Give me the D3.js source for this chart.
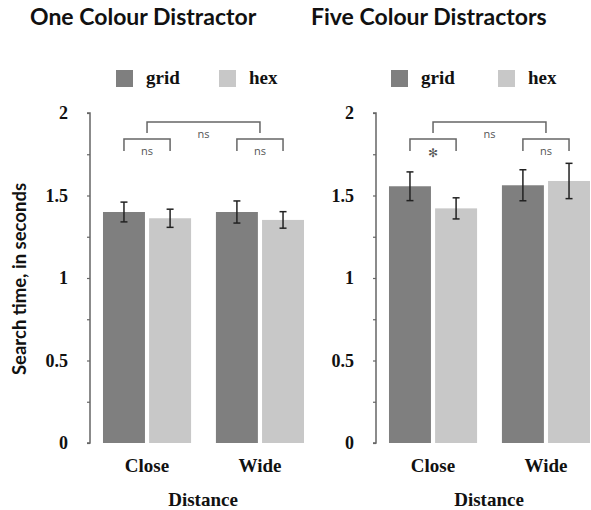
<!DOCTYPE html>
<html><head><meta charset="utf-8">
<script src="https://cdn.jsdelivr.net/npm/d3@7"></script>
<style>body{margin:0;background:#fff}svg{display:block}</style>
</head><body>
<script>
// ---- data ----
const panels = ["One Colour Distractor", "Five Colour Distractors"];
const categories = ["Close", "Wide"];
const series = ["grid", "hex"];
// mean search time (s) per panel, [Close, Wide]
const gridMeans = [[1.40, 1.40], [1.556, 1.562]];
const hexMeans  = [[1.362, 1.352], [1.422, 1.588]];
// error half-widths
const gridErr = [[0.06, 0.067], [0.087, 0.094]];
const hexErr  = [[0.055, 0.05], [0.064, 0.107]];
// significance labels: [Close grid-vs-hex, Wide grid-vs-hex, Close-vs-Wide]
const sigLabels = [["ns", "ns", "ns"], ["✻", "ns", "ns"]];
const yTicks = [0, 0.5, 1, 1.5, 2];
const yTickLabels = ["0", "0.5", "1", "1.5", "2"];
const yMinorTicks = [0.25, 0.75, 1.25, 1.75];
const yTitle = "Search time, in seconds";
const xTitle = "Distance";

// ---- layout ----
const W = 591, H = 510;
const axisX = [90, 376];
const legendX = [[116, 219], [391, 498]];
const titleX = [30, 311];
const colors = {grid: "#7f7f7f", hex: "#c8c8c8"};
const y = d3.scaleLinear().domain([0, 2]).range([443, 113]);

const svg = d3.select("body").append("svg").attr("width", W).attr("height", H);

svg.append("text")
  .attr("transform", `translate(26,${279}) rotate(-90)`)
  .attr("text-anchor", "middle")
  .style("font", "bold 18.5px Lato").style("fill", "#111")
  .text(yTitle);

panels.forEach((title, p) => {
  const ax = axisX[p];
  const g = svg.append("g");
  // title
  g.append("text").attr("x", titleX[p]).attr("y", 25)
    .style("font", "bold 23px Lato").style("fill", "#111").text(title);

  // legend
  series.forEach((s, i) => {
    g.append("rect").attr("x", legendX[p][i]).attr("y", 70).attr("width", 17).attr("height", 17)
      .attr("fill", colors[s]);
    g.append("text").attr("x", legendX[p][i] + 30).attr("y", 84)
      .style("font", "bold 19px 'Liberation Serif'").style("fill", "#111").text(s);
  });

  const x0 = d3.scaleBand().domain(categories).range([ax, ax + 227])
    .paddingInner(0.22).paddingOuter(0.115);
  const x1 = d3.scaleBand().domain(series).range([0, x0.bandwidth()]).paddingInner(0.09);

  // axis
  const yAxis = d3.axisLeft(y).tickValues(yTicks).tickSize(3)
    .tickFormat((d, i) => yTickLabels[i]).tickPadding(19);
  const ga = g.append("g").attr("transform", `translate(${ax},0)`).call(yAxis);
  ga.select(".domain").attr("stroke", "#666").attr("stroke-width", 1.5).attr("d", `M-3,${y(2)}H0V${y(0)}H-3`);
  ga.selectAll(".tick line").attr("stroke", "#666").attr("stroke-width", 1.2);
  ga.selectAll(".tick text").style("font", "bold 18px 'Liberation Serif'").style("fill", "#111");
  const ym = d3.axisLeft(y).tickValues(yMinorTicks).tickSize(3).tickFormat("");
  const gm = g.append("g").attr("transform", `translate(${ax},0)`).call(ym);
  gm.select(".domain").remove();
  gm.selectAll(".tick line").attr("stroke", "#666").attr("stroke-width", 1.2);

  // bars
  const rows = [];
  categories.forEach((c, ci) => {
    rows.push({c, s: "grid", v: gridMeans[p][ci], e: gridErr[p][ci]});
    rows.push({c, s: "hex", v: hexMeans[p][ci], e: hexErr[p][ci]});
  });
  g.selectAll("rect.bar").data(rows).enter().append("rect").attr("class", "bar")
    .attr("x", d => x0(d.c) + x1(d.s)).attr("width", x1.bandwidth())
    .attr("y", d => y(d.v)).attr("height", d => y(0) - y(d.v))
    .attr("fill", d => colors[d.s]);
  // error bars
  const eb = g.selectAll("g.err").data(rows).enter().append("g")
    .attr("transform", d => `translate(${x0(d.c) + x1(d.s) + x1.bandwidth() / 2},0)`)
    .attr("stroke", "#222").attr("stroke-width", 1.5);
  eb.append("line").attr("y1", d => y(d.v + d.e)).attr("y2", d => y(d.v - d.e));
  eb.append("line").attr("x1", -3.5).attr("x2", 3.5).attr("y1", d => y(d.v + d.e)).attr("y2", d => y(d.v + d.e));
  eb.append("line").attr("x1", -3.5).attr("x2", 3.5).attr("y1", d => y(d.v - d.e)).attr("y2", d => y(d.v - d.e));

  // x labels
  categories.forEach(c => {
    g.append("text").attr("x", x0(c) + x0.bandwidth() / 2).attr("y", 472)
      .attr("text-anchor", "middle").style("font", "bold 19px 'Liberation Serif'").style("fill", "#111").text(c);
  });
  g.append("text").attr("x", ax + 113).attr("y", 506).attr("text-anchor", "middle")
    .style("font", "bold 19px 'Liberation Serif'").style("fill", "#111").text(xTitle);

  // significance brackets
  const bracket = (xa, xb, top, legLen, label, isStar) => {
    g.append("path").attr("d", `M${xa},${top + legLen}V${top}H${xb}V${top + legLen}`)
      .attr("fill", "none").attr("stroke", "#666").attr("stroke-width", 1.5);
    g.append("text").attr("x", (xa + xb) / 2).attr("y", top + (isStar ? 18 : 16))
      .attr("text-anchor", "middle")
      .style("font", isStar ? "12px 'DejaVu Sans'" : "11px 'Open Sans'").style("fill", "#555").text(label);
  };
  categories.forEach((c, ci) => {
    const xa = x0(c) + x1("grid") + x1.bandwidth() / 2;
    const xb = x0(c) + x1("hex") + x1.bandwidth() / 2;
    bracket(xa, xb, 139, 12, sigLabels[p][ci], sigLabels[p][ci] !== "ns");
  });
  bracket(x0("Close") + x0.bandwidth() / 2, x0("Wide") + x0.bandwidth() / 2, 122, 11, sigLabels[p][2], false);
});
</script>
</body></html>
